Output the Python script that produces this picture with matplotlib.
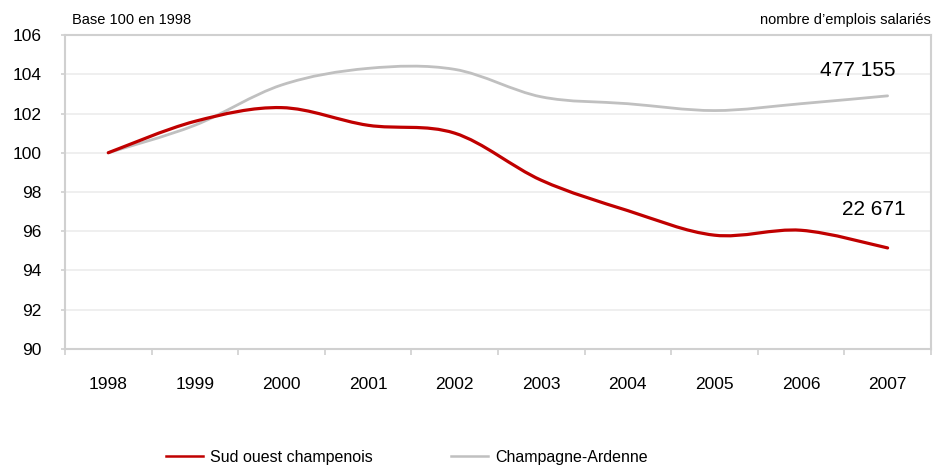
import numpy as np
import matplotlib
matplotlib.use("Agg")
import matplotlib.pyplot as plt
from matplotlib.path import Path
from matplotlib.patches import PathPatch
from matplotlib.lines import Line2D

plt.rcParams['font.family'] = ['Liberation Sans', 'DejaVu Sans']

years = ['1998', '1999', '2000', '2001', '2002', '2003', '2004', '2005', '2006', '2007']
sud_ouest = [100.0, 101.6, 102.3, 101.4, 101.0, 98.6, 97.05, 95.8, 96.05, 95.15]
champagne = [100.0, 101.4, 103.45, 104.3, 104.25, 102.85, 102.5, 102.15, 102.5, 102.9]
last_values = ['22 671', '477 155']
names = ['Sud ouest champenois', 'Champagne-Ardenne']

red = '#C00000'
grey = '#C0C0C0'


def smooth_path(x, y):
    # excel-like smoothed line : bezier segments through every point
    pts = np.column_stack([x, y])
    n = len(pts)
    verts = [pts[0]]
    codes = [Path.MOVETO]
    for i in range(n - 1):
        p0 = pts[max(i - 1, 0)]
        p1 = pts[i]
        p2 = pts[i + 1]
        p3 = pts[min(i + 2, n - 1)]
        c1 = p1 + (p2 - p0) / 6
        c2 = p2 - (p3 - p1) / 6
        verts += [c1, c2, p2]
        codes += [Path.CURVE4] * 3
    return Path(verts, codes)


fig = plt.figure(figsize=(9.47, 4.65), dpi=100)
ax = fig.add_axes([0.0686, 0.2495, 0.9144, 0.6752])

x = np.arange(len(years))
ax.add_patch(PathPatch(smooth_path(x, champagne), fill=False, color=grey, lw=2.0,
                       capstyle='round', zorder=3))
ax.add_patch(PathPatch(smooth_path(x, sud_ouest), fill=False, color=red, lw=2.3,
                       capstyle='round', zorder=4))

ax.set_xlim(-0.5, 9.5)
ax.set_ylim(90, 106)
ax.set_yticks(np.arange(90, 107, 2))
ax.set_xticks(x)
ax.set_xticklabels(years)
ax.set_xticks(np.arange(-0.5, 10, 1), minor=True)
ax.tick_params(axis='x', which='major', length=0, pad=20, labelsize=12.5)
ax.tick_params(axis='x', which='minor', length=4, color='#d0d0d0', width=1.2)
ax.tick_params(axis='y', length=3, color='#d0d0d0', width=1.2, pad=14, labelsize=12.5)
ax.grid(axis='y', color='#ececec', lw=1.2)
ax.set_axisbelow(True)
for s in ax.spines.values():
    s.set_color('#d0d0d0')
    s.set_linewidth(1.5)

ax.text(8.66, 104.2, last_values[1], fontsize=15, ha='center', va='center')
ax.text(8.84, 97.1, last_values[0], fontsize=15, ha='center', va='center')

fig.text(72 / 947, 1 - 20 / 465, 'Base 100 en 1998', fontsize=10.5, ha='left', va='center')
fig.text(931 / 947, 1 - 20 / 465, 'nombre d\u2019emplois salariés', fontsize=10.5,
         ha='right', va='center')

handles = [Line2D([], [], color=red, lw=1.8), Line2D([], [], color=grey, lw=1.8)]
fig.legend(handles, names, loc='lower left', bbox_to_anchor=(152 / 947, -0.03),
           ncol=2, frameon=False, fontsize=11.5, handlelength=2.3, handletextpad=0.45,
           columnspacing=4.9)

fig.savefig('out.png', dpi=100)
